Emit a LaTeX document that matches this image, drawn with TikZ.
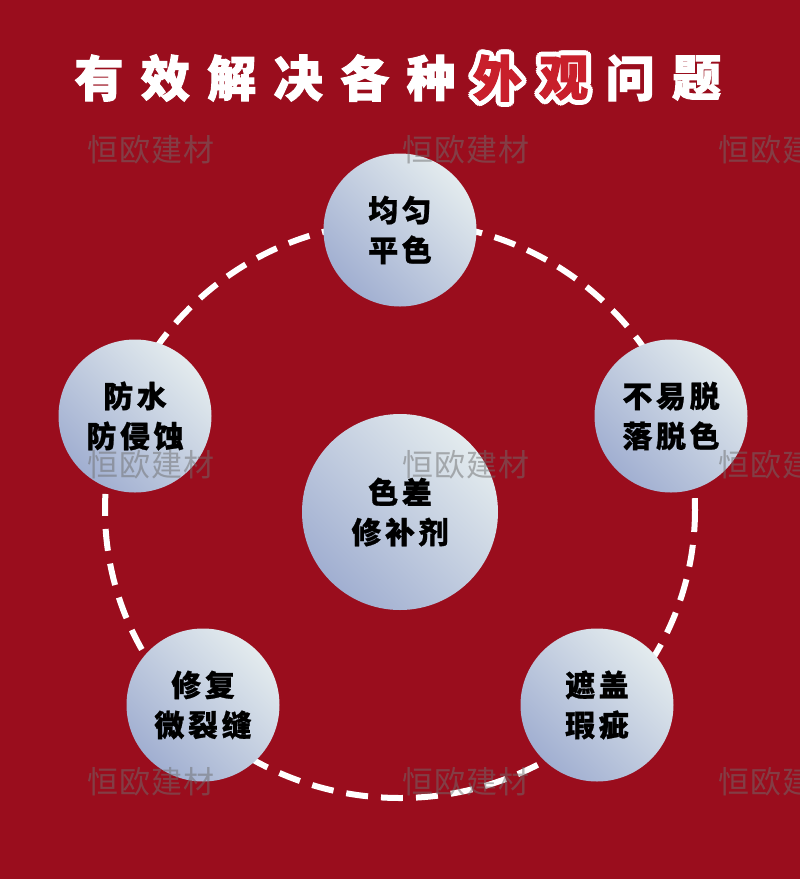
\documentclass[tikz,border=0pt]{standalone}
\usepackage{fontspec}
\usepackage{xcolor}
\usepackage{tikz}
\newfontfamily\cjk[LetterSpace=12, BoldFeatures={FakeBold=0.8}]{Noto Sans CJK SC}
\newfontfamily\cjkmark[LetterSpace=4]{Noto Sans CJK SC}
\newfontfamily\cjkheavy[BoldFeatures={FakeBold=2}]{Noto Sans CJK SC}
\definecolor{bgred}{HTML}{9A0D1D}
\definecolor{titlered}{HTML}{C81F2B}
\definecolor{discl}{HTML}{E3EBEE}
\definecolor{discd}{HTML}{A1AFD1}
\definecolor{markgray}{HTML}{6E6E6E}

\tikzset{
  disc/.style={circle, minimum size=153, inner sep=0pt, top color=discl, bottom color=discd, shading angle=-45,
    align=center, text=black, font=\cjk\bfseries\fontsize{30}{40}\selectfont},
  bigdisc/.style={disc, minimum size=196},
  ring/.style={white, line width=6, dash pattern=on 22 off 13},
  titlech/.style={inner sep=0pt, font=\cjkheavy\bfseries\fontsize{49}{49}\selectfont},
  wmark/.style={inner sep=0pt, text=markgray, text opacity=0.5, font=\cjkmark\fontsize{31}{31}\selectfont}
}

\begin{document}
\begin{tikzpicture}[x=1pt, y=-1pt]
  \useasboundingbox (0,0) rectangle (800,879);
  \fill[bgred] (0,0) rectangle (800,879);

  % Title
  \foreach \ch [count=\i from 0] in {有,效,解,决,各,种}
    \node[titlech, text=white] (t\i) at (99+66.4*\i,78) {\ch};
  \foreach \ch [count=\i from 6] in {外,观} {
    \foreach \a in {0,22.5,...,337.5}
      \node[titlech, text=white] at ({99+66.4*\i+5*cos(\a)},{78+5*sin(\a)}) {\ch};
    \node[titlech, text=titlered] (t\i) at (99+66.4*\i,78) {\ch};
  }
  \foreach \ch [count=\i from 8] in {问,题}
    \node[titlech, text=white] (t\i) at (99+66.4*\i,78) {\ch};

  % Ring
  \draw[ring] (400,510) ellipse [x radius=295, y radius=288];

  % Nodes
  \node[bigdisc] (n0) at (400,512) {色差\\修补剂};
  \node[disc] (n1) at (400,230) {均匀\\平色};
  \node[disc] (n2) at (135,416) {防水\\防侵蚀};
  \node[disc] (n3) at (671,416) {不易脱\\落脱色};
  \node[disc] (n4) at (203,705) {修复\\微裂缝};
  \node[disc] (n5) at (597,705) {遮盖\\瑕疵};

  % Watermarks
  \foreach \y in {150,465,782}
    \foreach \x in {151,466,782}
      \node[wmark] at (\x,\y) {恒欧建材};
\end{tikzpicture}
\end{document}
